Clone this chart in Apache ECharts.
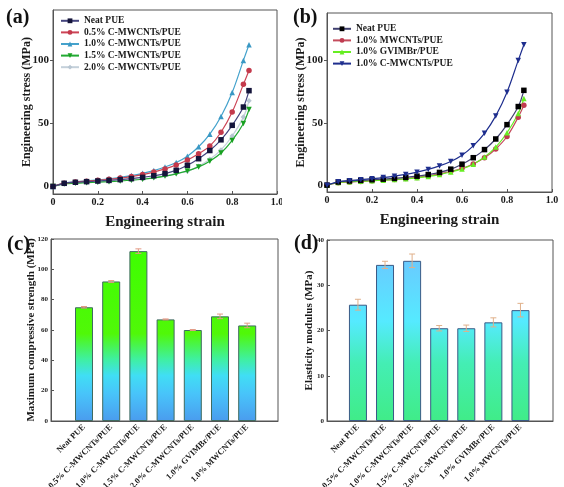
<!DOCTYPE html>
<html><head><meta charset="utf-8">
<script src="https://cdn.jsdelivr.net/npm/echarts@6/dist/echarts.min.js"></script>
<style>html,body{margin:0;padding:0;background:#fff;width:564px;height:487px;overflow:hidden}
.p{position:absolute}</style></head><body>
<div id="ca" class="p" style="left:0;top:0;width:282px;height:230px"></div>
<div id="cb" class="p" style="left:282px;top:0;width:282px;height:230px"></div>
<div id="cc" class="p" style="left:0;top:228px;width:282px;height:259px"></div>
<div id="cd" class="p" style="left:282px;top:228px;width:282px;height:259px"></div>
<script>
// ---------- data ----------
const strain = [0,0.05,0.1,0.15,0.2,0.25,0.3,0.35,0.4,0.45,0.5,0.55,0.6,0.65,0.7,0.75,0.8,0.85,0.875];
const neatPUE   = [0,2.5,3.3,3.8,4.3,4.8,5.4,6.2,7.2,8.5,10.2,12.8,16.8,22,28.5,37,48.5,63,76];
const cm05      = [0,2.6,3.5,4.2,4.9,5.7,6.6,7.8,9.4,11.4,13.9,17,21,26,32,43,59,81,92];
const cm10      = [0,2.7,3.6,4.4,5.2,6.1,7.2,8.6,10.4,12.6,15.4,19,24,31.5,41.5,55.5,74.5,100,112.5];
const cm15      = [0,2,2.6,3,3.4,3.8,4.3,4.9,5.7,6.8,8.2,10,12.3,15.5,20,26.5,36.5,50,61];
const cm20      = [0,2.1,2.7,3.1,3.5,4,4.5,5.1,5.9,7,8.4,10.3,12,16,21.5,29,40,55,68];
const mw10      = [0,2,2.6,3,3.5,4,4.6,5.3,6.2,7.4,9,11,13.5,17,22,29,39,54.5,64];
const gv10      = [0,2.1,2.7,3.1,3.5,4,4.5,5.1,5.9,7,8.5,10.5,13,16.8,22.5,30.5,42,57.5,69.5];
const namesA = ['Neat PUE','0.5% C-MWCNTs/PUE','1.0% C-MWCNTs/PUE','1.5% C-MWCNTs/PUE','2.0% C-MWCNTs/PUE'];
const namesB = ['Neat PUE','1.0% MWCNTs/PUE','1.0% GVIMBr/PUE','1.0% C-MWCNTs/PUE'];
const strainTicks = [0,0.2,0.4,0.6,0.8,1.0];
const stressTicks = [0,50,100];
const barCats = ['Neat PUE','0.5% C-MWCNTs/PUE','1.0% C-MWCNTs/PUE','1.5% C-MWCNTs/PUE','2.0% C-MWCNTs/PUE','1.0% GVIMBr/PUE','1.0% MWCNTs/PUE'];
const strength    = [75,92,112,67,60,69,63];
const strengthErr = [0.5,0.6,1.5,0.3,0.3,1.5,1.5];
const modulus     = [25.7,34.5,35.4,20.5,20.5,21.8,24.5];
const modulusErr  = [1.2,0.8,1.5,0.6,0.7,1.0,1.5];

// ---------- helpers ----------
const FONT = '"Liberation Serif","DejaVu Serif",serif';
const FRAME = '#555';
const TXT = '#1a1a1a';

function lineChart(el, opts){
  const c = echarts.init(document.getElementById(el));
  c.setOption({
    animation:false,
    title:{text:opts.label, left:opts.labelLeft, top:3, textStyle:{fontFamily:FONT,fontWeight:'bold',fontSize:20,color:'#111'}},
    grid:Object.assign({show:true,borderColor:FRAME,borderWidth:1,outerBoundsMode:'none',containLabel:false}, opts.grid),
    legend:{orient:'vertical', left:opts.legLeft, top:opts.legTop, padding:0, itemGap:0, itemWidth:18, itemHeight:6,
      textStyle:{fontFamily:FONT,fontWeight:'bold',fontSize:9.5,color:TXT,lineHeight:11.6},
      data:opts.series.map(s=>s.name)},
    xAxis:{type:'value', min:0, max:1, interval:0.2,
      name:'Engineering strain', nameLocation:'middle', nameGap:21,
      nameTextStyle:{fontFamily:FONT,fontWeight:'bold',fontSize:15,color:TXT},
      axisLine:{onZero:false,lineStyle:{color:FRAME}},
      axisTick:{inside:true,length:3,lineStyle:{color:FRAME}},
      axisLabel:{margin:3,fontFamily:FONT,fontWeight:'bold',fontSize:10,color:TXT,
        customValues:strainTicks, formatter:v=>v===0?'0':v.toFixed(1)},
      splitLine:{show:false}},
    yAxis:{type:'value', min:opts.ymin, max:opts.ymax,
      name:'Engineering stress (MPa)', nameLocation:'middle', nameGap:opts.yNameGap, nameMoveOverlap:false,
      nameTextStyle:{fontFamily:FONT,fontWeight:'bold',fontSize:12,color:TXT},
      axisLine:{lineStyle:{color:FRAME}},
      axisTick:{inside:false,length:3,customValues:stressTicks,lineStyle:{color:FRAME}},
      axisLabel:{margin:4,fontFamily:FONT,fontWeight:'bold',fontSize:11,color:TXT,customValues:stressTicks},
      splitLine:{show:false}},
    series:opts.series.map(s=>({
      type:'line', name:s.name, smooth:0.35, symbol:s.symbol, symbolRotate:s.rot||0, symbolSize:5.5,
      data:strain.map((x,i)=>[x,s.data[i]]),
      lineStyle:{color:s.line,width:1.2}, itemStyle:{color:s.mark}, z:s.z||2
    }))
  });
}

lineChart('ca',{
  label:'(a)', labelLeft:1,
  grid:{left:53,top:10,width:224,height:184},
  ymin:-6, ymax:140, yNameGap:20,
  legLeft:60, legTop:15,
  series:[
    {name:namesA[0],data:neatPUE,symbol:'rect',line:'#45457e',mark:'#14143a',z:4},
    {name:namesA[1],data:cm05,symbol:'circle',line:'#cc4455',mark:'#c43a4c',z:3},
    {name:namesA[2],data:cm10,symbol:'triangle',line:'#44a2cc',mark:'#3a98c4',z:2},
    {name:namesA[3],data:cm15,symbol:'triangle',rot:180,line:'#22aa33',mark:'#18a020',z:2},
    {name:namesA[4],data:cm20,symbol:'diamond',line:'#c4d0da',mark:'#b8c6d2',z:1}
  ]
});
lineChart('cb',{
  label:'(b)', labelLeft:6,
  grid:{left:45,top:13,width:225,height:179},
  ymin:-5.5, ymax:138, yNameGap:20,
  legLeft:50, legTop:23,
  series:[
    {name:namesB[0],data:neatPUE,symbol:'rect',line:'#404070',mark:'#000000',z:3},
    {name:namesB[1],data:mw10,symbol:'circle',line:'#c44c5c',mark:'#c03c50',z:2},
    {name:namesB[2],data:gv10,symbol:'triangle',line:'#66ee22',mark:'#66ee22',z:2},
    {name:namesB[3],data:cm10,symbol:'triangle',rot:180,line:'#1e2e8e',mark:'#1e2e8e',z:4}
  ]
});

function barChart(el, opts){
  const c = echarts.init(document.getElementById(el));
  const g = opts.frame;
  c.setOption({
    animation:false,
    title:{text:opts.label, left:opts.labelLeft, top:opts.labelTop, textStyle:{fontFamily:FONT,fontWeight:'bold',fontSize:opts.labelSize,color:'#111'}},
    grid:[Object.assign({show:true,borderColor:FRAME,borderWidth:1,outerBoundsMode:'none',containLabel:false}, g),
          {left:opts.barLeft, width:opts.barWidthAll, top:g.top, height:g.height,outerBoundsMode:'none',containLabel:false}],
    xAxis:[
      {gridIndex:0,type:'value',min:0,max:1,axisLabel:{show:false},axisTick:{show:false},splitLine:{show:false},
        axisLine:{onZero:false,lineStyle:{color:FRAME}}},
      {gridIndex:1,type:'category',data:barCats,axisLine:{show:false},axisTick:{show:false},
        axisLabel:{interval:0,rotate:45,margin:5,fontFamily:FONT,fontWeight:'bold',fontSize:8.5,color:TXT}}
    ],
    yAxis:[
      {gridIndex:0,type:'value',min:0,max:opts.ymax,interval:opts.yint,
        name:opts.yname,nameLocation:'middle',nameGap:opts.yNameGap,nameMoveOverlap:false,
        nameTextStyle:{fontFamily:FONT,fontWeight:'bold',fontSize:11,color:TXT},
        axisLine:{lineStyle:{color:FRAME}},axisTick:{inside:true,length:3,lineStyle:{color:FRAME}},
        axisLabel:{margin:3,fontFamily:FONT,fontWeight:'bold',fontSize:7,color:TXT},splitLine:{show:false}},
      {gridIndex:1,type:'value',min:0,max:opts.ymax,show:false}
    ],
    series:[
      {type:'bar',xAxisIndex:1,yAxisIndex:1,data:opts.vals,barWidth:18,
        itemStyle:{color:{type:'linear',x:0,y:g.top,x2:0,y2:g.top+g.height,global:true,colorStops:opts.stops},
          borderColor:opts.border,borderWidth:1}},
      {type:'custom',xAxisIndex:1,yAxisIndex:1,z:10,
        data:opts.vals.map((v,i)=>[i,v-opts.errs[i],v+opts.errs[i]]),
        encode:{x:0,y:[1,2]},
        renderItem:(p,api)=>{
          const lo=api.coord([api.value(0),api.value(1)]), hi=api.coord([api.value(0),api.value(2)]);
          const w=3, st={stroke:opts.errColor,lineWidth:1};
          return {type:'group',children:[
            {type:'line',shape:{x1:hi[0],y1:hi[1],x2:lo[0],y2:lo[1]},style:st},
            {type:'line',shape:{x1:hi[0]-w,y1:hi[1],x2:hi[0]+w,y2:hi[1]},style:st},
            {type:'line',shape:{x1:lo[0]-w,y1:lo[1],x2:lo[0]+w,y2:lo[1]},style:st}
          ]};
        }}
    ]
  });
}

barChart('cc',{
  label:'(c)', labelLeft:2, labelTop:1, labelSize:21,
  frame:{left:51,top:11,width:227,height:182},
  barLeft:70.4, barWidthAll:190.4,
  ymax:120, yint:20, yname:'Maximum compressive strength (MPa)', yNameGap:14,
  vals:strength, errs:strengthErr, errColor:'#e39a86', border:'#3f6b60',
  stops:[{offset:0,color:'#3cff00'},{offset:0.52,color:'#50f808'},{offset:0.66,color:'#3ff0a0'},
         {offset:0.75,color:'#40def4'},{offset:0.85,color:'#48c4fa'},{offset:1,color:'#4a9cee'}]
});
barChart('cd',{
  label:'(d)', labelLeft:7, labelTop:1, labelSize:20,
  frame:{left:45,top:12,width:226,height:181},
  barLeft:62.4, barWidthAll:189.6,
  ymax:40, yint:10, yname:'Elasticity modulus (MPa)', yNameGap:12,
  vals:modulus, errs:modulusErr, errColor:'#e0b08a', border:'#3a5a86',
  stops:[{offset:0,color:'#72c0ff'},{offset:0.13,color:'#68ccff'},{offset:0.45,color:'#55eaff'},
         {offset:0.68,color:'#44eeb4'},{offset:1,color:'#40ec88'}]
});
</script></body></html>
